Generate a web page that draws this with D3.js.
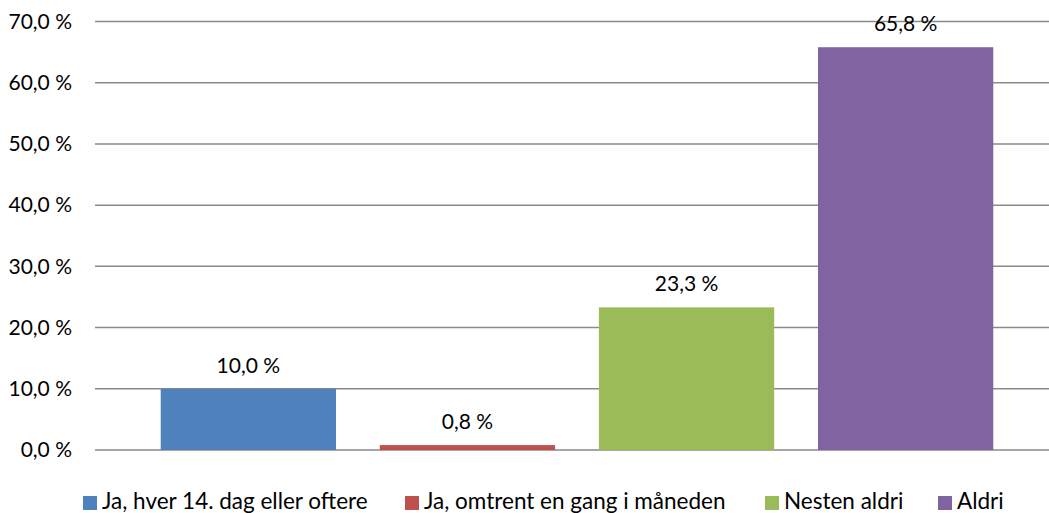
<!DOCTYPE html>
<html>
<head>
<meta charset="utf-8">
<script src="https://cdn.jsdelivr.net/npm/d3@7"></script>
<style>
  html, body { margin: 0; padding: 0; background: #fff; }
  svg { display: block; }
  text { font-family: Lato, "Open Sans", sans-serif; fill: #000; }
</style>
</head>
<body>
<svg id="chart" width="1049" height="513"></svg>
<script>
// Answer categories (one series per category, as in the legend)
const categories = [
  "Ja, hver 14. dag eller oftere",
  "Ja, omtrent en gang i måneden",
  "Nesten aldri",
  "Aldri"
];
// Share of respondents, percent
const values = [10.0, 0.8, 23.3, 65.8];
const colors = ["#4F81BD", "#C0504D", "#9BBB59", "#8064A2"];
const yTicks = [0, 10, 20, 30, 40, 50, 60, 70];

const fmt = v => v.toFixed(1).replace(".", ",") + " %";

const svg = d3.select("#chart");
const plot = { left: 95, right: 1059, top: 21.5, bottom: 450 };

const x = d3.scaleBand()
  .domain(categories)
  .range([plot.left, plot.right])
  .paddingInner(0.2)
  .paddingOuter(0.3);

const y = d3.scaleLinear()
  .domain([0, 70])
  .range([plot.bottom, plot.top]);

// Horizontal gridlines (including the baseline)
svg.append("g")
  .selectAll("line")
  .data(yTicks)
  .join("line")
  .attr("x1", plot.left)
  .attr("x2", plot.right)
  .attr("y1", d => y(d))
  .attr("y2", d => y(d))
  .attr("stroke", "#8a8a8a")
  .attr("stroke-width", 1.5);

// Y-axis tick labels
const yAxis = d3.axisLeft(y).tickValues(yTicks).tickFormat(fmt).tickSize(0).tickPadding(0);
const gy = svg.append("g")
  .attr("transform", `translate(${plot.left - 23},0)`)
  .call(yAxis);
gy.select(".domain").remove();
gy.selectAll("text")
  .style("font-family", "Lato, 'Open Sans', sans-serif")
  .style("font-size", "21px")
  .attr("fill", "#000");

// Bars
svg.append("g")
  .selectAll("rect")
  .data(values)
  .join("rect")
  .attr("x", (d, i) => x(categories[i]))
  .attr("width", x.bandwidth())
  .attr("y", d => y(d))
  .attr("height", d => y(0) - y(d))
  .attr("fill", (d, i) => colors[i]);

// Value labels above bars
svg.append("g")
  .selectAll("text")
  .data(values)
  .join("text")
  .attr("x", (d, i) => x(categories[i]) + x.bandwidth() / 2)
  .attr("y", d => y(d) - 16)
  .attr("text-anchor", "middle")
  .style("font-size", "21px")
  .text(d => fmt(d));

// Legend
const legendX = [83, 405, 765, 938];
const legend = svg.append("g")
  .selectAll("g")
  .data(categories)
  .join("g")
  .attr("transform", (d, i) => `translate(${legendX[i]},496)`);
legend.append("rect")
  .attr("width", 14)
  .attr("height", 14)
  .attr("fill", (d, i) => colors[i]);
legend.append("text")
  .attr("x", 19)
  .attr("y", 13)
  .style("font-size", "22.5px")
  .text(d => d);
</script>
</body>
</html>
